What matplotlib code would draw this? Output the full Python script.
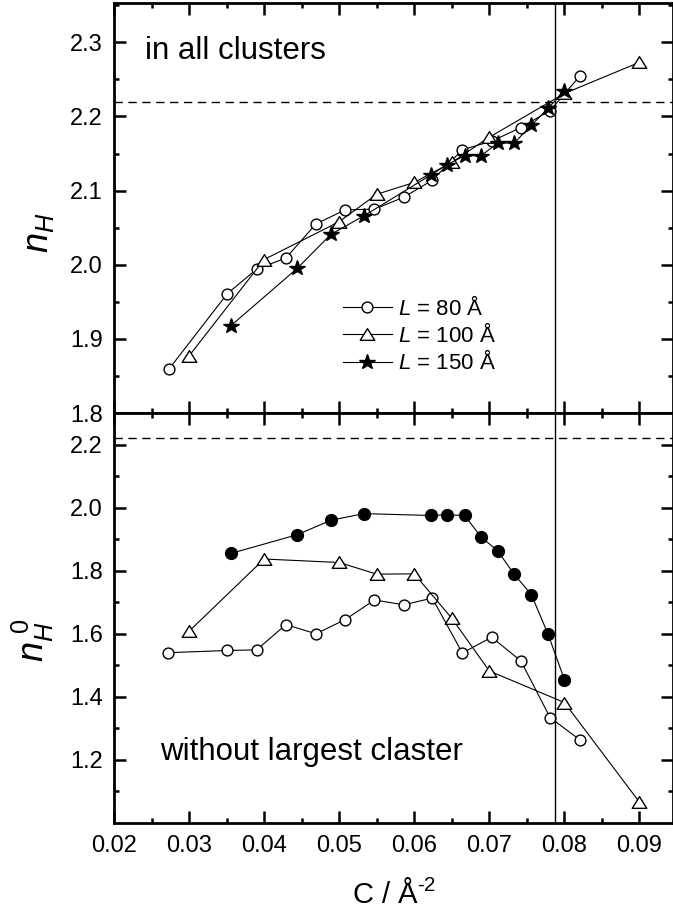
import matplotlib
matplotlib.use('Agg')
import matplotlib.pyplot as plt
from matplotlib.path import Path
from matplotlib.ticker import MultipleLocator, FixedLocator

plt.rcParams['font.family'] = ['Liberation Sans', 'DejaVu Sans']
plt.rcParams['mathtext.fontset'] = 'custom'
plt.rcParams['mathtext.it'] = 'Liberation Sans:italic'
plt.rcParams['mathtext.rm'] = 'Liberation Sans'

# upper panel: all clusters
x80_all = [0.0273, 0.0351, 0.0390, 0.0429, 0.0469, 0.0508, 0.0547, 0.0586, 0.0624, 0.0664, 0.0704, 0.0742, 0.0781, 0.0821]
n80_all = [1.859, 1.961, 1.994, 2.009, 2.055, 2.074, 2.075, 2.091, 2.114, 2.155, 2.167, 2.185, 2.208, 2.255]
x100_all = [0.030, 0.040, 0.050, 0.055, 0.060, 0.065, 0.070, 0.080, 0.090]
n100_all = [1.877, 2.007, 2.058, 2.095, 2.111, 2.138, 2.172, 2.231, 2.273]
x150_all = [0.0356, 0.0444, 0.0489, 0.0533, 0.0622, 0.0644, 0.0667, 0.0689, 0.0711, 0.0733, 0.0756, 0.0778, 0.0800]
n150_all = [1.918, 1.995, 2.041, 2.066, 2.121, 2.135, 2.147, 2.147, 2.164, 2.164, 2.188, 2.211, 2.234]

# lower panel: without largest cluster
x80_w = [0.0272, 0.0351, 0.0390, 0.0429, 0.0469, 0.0508, 0.0547, 0.0586, 0.0624, 0.0664, 0.0703, 0.0742, 0.0781, 0.0821]
n80_w = [1.540, 1.547, 1.549, 1.629, 1.600, 1.645, 1.707, 1.692, 1.713, 1.539, 1.589, 1.514, 1.334, 1.263]
x100_w = [0.030, 0.040, 0.050, 0.055, 0.060, 0.065, 0.070, 0.080, 0.090]
n100_w = [1.608, 1.837, 1.826, 1.789, 1.790, 1.649, 1.482, 1.382, 1.066]
x150_w = [0.0356, 0.0444, 0.0489, 0.0533, 0.0622, 0.0644, 0.0667, 0.0689, 0.0711, 0.0733, 0.0756, 0.0778, 0.0800]
n150_w = [1.855, 1.914, 1.960, 1.981, 1.975, 1.977, 1.975, 1.907, 1.863, 1.789, 1.724, 1.600, 1.455]

n_ref = 2.22
c_crit = 0.0787

# flat triangle like the original
tri = Path([(0, 0.8), (-1, -0.8), (1, -0.8), (0, 0.8)],
           [Path.MOVETO, Path.LINETO, Path.LINETO, Path.CLOSEPOLY])

fig = plt.figure(figsize=(6.73, 9.13), dpi=100)
left = 114 / 673
width = 672.5 / 673 - left
ax1 = fig.add_axes([left, 1 - 413 / 913, width, 410 / 913])
ax2 = fig.add_axes([left, 1 - 823 / 913, width, 410 / 913])

lw = 0.8
ax1.plot(x80_all, n80_all, '-o', color='k', lw=lw, mfc='white', mec='k', mew=1, ms=7.8, label='$L$ = 80 Å')
ax1.plot(x100_all, n100_all, '-', marker=tri, color='k', lw=lw, mfc='white', mec='k', mew=1, ms=10.5, label='$L$ = 100 Å')
ax1.plot(x150_all, n150_all, '-*', color='k', lw=lw, mfc='k', mec='k', ms=11.5, label='$L$ = 150 Å')

ax2.plot(x80_w, n80_w, '-o', color='k', lw=lw, mfc='white', mec='k', mew=1, ms=7.8)
ax2.plot(x100_w, n100_w, '-', marker=tri, color='k', lw=lw, mfc='white', mec='k', mew=1, ms=10.5)
ax2.plot(x150_w, n150_w, '-o', color='k', lw=lw, mfc='k', mec='k', ms=8.5)

for ax in (ax1, ax2):
    ax.axhline(n_ref, color='k', lw=1, ls=(0, (6, 4)))
    ax.axvline(c_crit, color='k', lw=1)
    ax.set_xlim(0.02, 0.0944)
    ax.xaxis.set_major_locator(MultipleLocator(0.01))
    ax.xaxis.set_minor_locator(MultipleLocator(0.005))
    ax.tick_params(which='both', direction='in', top=True, right=True, width=1.8, labelsize=17)
    ax.tick_params(which='major', length=8.5)
    ax.tick_params(which='minor', length=3.8)
    ax.tick_params(axis='y', pad=8)
    ax.tick_params(axis='x', pad=9)
    for s in ax.spines.values():
        s.set_linewidth(2)

ax1.set_ylim(1.8, 2.353)
ax1.yaxis.set_major_locator(MultipleLocator(0.1))
ax1.yaxis.set_minor_locator(MultipleLocator(0.05))
ax1.tick_params(labelbottom=False)
ax1.set_ylabel('$n_H$', fontsize=26)
ax1.yaxis.set_label_coords(-0.103, 0.44)
ax1.text(0.0241, 2.278, 'in all clusters', fontsize=22.5)
ax1.legend(loc='upper left', bbox_to_anchor=(0.39, 0.313), frameon=False, fontsize=16,
           handlelength=2.2, handletextpad=0.3, labelspacing=0.15, borderpad=0)

ax2.set_ylim(1.0, 2.3)
ax2.yaxis.set_major_locator(FixedLocator([1.2, 1.4, 1.6, 1.8, 2.0, 2.2]))
ax2.yaxis.set_minor_locator(FixedLocator([1.1, 1.3, 1.5, 1.7, 1.9, 2.1]))
ax2.set_ylabel('$n_H^{\\ 0}$', fontsize=26)
ax2.yaxis.set_label_coords(-0.103, 0.446)
ax2.text(0.0262, 1.2, 'without largest claster', fontsize=22.5)

# x label placed directly so it stays inside the figure
fig.text(394 / 673, 1 - 903 / 913, 'C / Å$^{\\text{-2}}$', fontsize=21,
         ha='center', va='baseline')

fig.savefig('out.png', dpi=100)
